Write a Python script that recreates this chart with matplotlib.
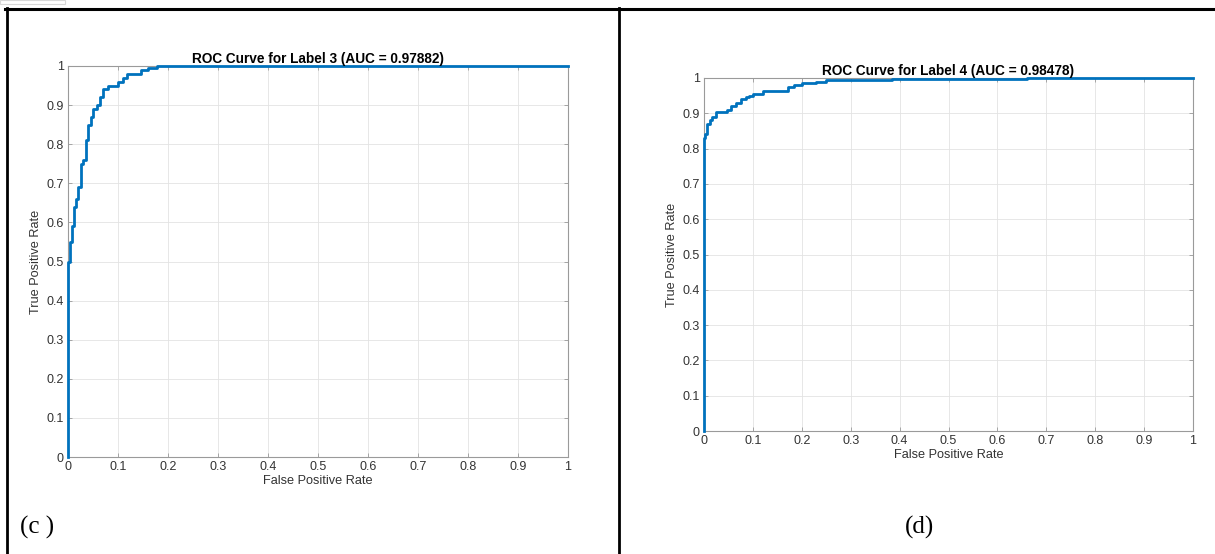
import matplotlib
matplotlib.use("Agg")
import matplotlib.pyplot as plt
from matplotlib.lines import Line2D
from matplotlib.patches import Rectangle

# ---- data ----
fpr_3 = [0.0, 0.0, 0.004, 0.004, 0.008, 0.008, 0.011, 0.011, 0.016, 0.016, 0.020, 0.020,
         0.025, 0.025, 0.030, 0.030, 0.036, 0.036, 0.040, 0.040, 0.045, 0.045, 0.050, 0.050,
         0.058, 0.058, 0.064, 0.064, 0.070, 0.070, 0.080, 0.080, 0.100, 0.100, 0.110,
         0.110, 0.118, 0.118, 0.145, 0.145, 0.160, 0.160, 0.178, 0.178, 1.0]
tpr_3 = [0.0, 0.50, 0.50, 0.55, 0.55, 0.59, 0.59, 0.64, 0.64, 0.66, 0.66, 0.69,
         0.69, 0.75, 0.75, 0.76, 0.76, 0.81, 0.81, 0.85, 0.85, 0.87, 0.87, 0.89,
         0.89, 0.90, 0.90, 0.92, 0.92, 0.94, 0.94, 0.95, 0.95, 0.96, 0.96,
         0.97, 0.97, 0.98, 0.98, 0.99, 0.99, 0.995, 0.995, 1.0, 1.0]

fpr_4 = [0.0, 0.0, 0.002, 0.002, 0.007, 0.007, 0.012, 0.012, 0.016, 0.016, 0.024, 0.024,
         0.041, 0.041, 0.048, 0.048, 0.055, 0.055, 0.065, 0.065, 0.075, 0.075, 0.085, 0.085,
         0.092, 0.092, 0.100, 0.100, 0.120, 0.120, 0.171, 0.171, 0.185, 0.185, 0.200, 0.200,
         0.230, 0.230, 0.250, 0.250, 0.300, 0.300, 0.384, 0.384, 0.660, 0.660, 1.0]
tpr_4 = [0.0, 0.83, 0.83, 0.84, 0.84, 0.87, 0.87, 0.88, 0.88, 0.89, 0.89, 0.903,
         0.903, 0.905, 0.905, 0.91, 0.91, 0.92, 0.92, 0.93, 0.93, 0.94, 0.94, 0.945,
         0.945, 0.95, 0.95, 0.955, 0.955, 0.963, 0.963, 0.975, 0.975, 0.98, 0.98, 0.985,
         0.985, 0.99, 0.99, 0.993, 0.993, 0.995, 0.995, 0.998, 0.998, 1.0, 1.0]

titles = ["ROC Curve for Label 3 (AUC = 0.97882)", "ROC Curve for Label 4 (AUC = 0.98478)"]
panel_labels = ["(c )", "(d)"]
ticks = [0, 0.1, 0.2, 0.3, 0.4, 0.5, 0.6, 0.7, 0.8, 0.9, 1]
tick_labels = ["0", "0.1", "0.2", "0.3", "0.4", "0.5", "0.6", "0.7", "0.8", "0.9", "1"]

W, H = 1215, 554
fig = plt.figure(figsize=(W / 100, H / 100), dpi=100)
fig.patch.set_facecolor("white")

def px_axes(x0, x1, ytop, ybot):
    return [x0 / W, (H - ybot) / H, (x1 - x0) / W, (ybot - ytop) / H]

sans = ["Liberation Sans", "DejaVu Sans"]
serif = ["Liberation Serif", "DejaVu Serif"]
blue = "#0072BD"
axcol = "#9a9a9a"
txtcol = "#333333"

def make(ax, fx, ty, title):
    ax.plot(fx, ty, color=blue, lw=2.0, solid_joinstyle="round", clip_on=False, zorder=3)
    ax.set_xlim(0, 1)
    ax.set_ylim(0, 1)
    ax.set_xticks(ticks)
    ax.set_yticks(ticks)
    ax.set_xticklabels(tick_labels, family=sans, fontsize=9, color=txtcol)
    ax.set_yticklabels(tick_labels, family=sans, fontsize=9, color=txtcol)
    ax.tick_params(direction="in", length=3, width=0.6, color=axcol, top=True, right=True, pad=3)
    ax.grid(True, color="#e3e3e3", lw=0.6)
    ax.set_axisbelow(True)
    for s in ax.spines.values():
        s.set_color(axcol)
        s.set_linewidth(0.8)
    ax.set_title(title, family=sans, fontsize=9.8, fontweight="bold", color="black", pad=2)
    ax.set_xlabel("False Positive Rate", family=sans, fontsize=9.2, color=txtcol, labelpad=1)
    ax.set_ylabel("True Positive Rate", family=sans, fontsize=9.2, color=txtcol, labelpad=3)

ax1 = fig.add_axes(px_axes(68, 568, 66, 457))
make(ax1, fpr_3, tpr_3, titles[0])
ax2 = fig.add_axes(px_axes(704, 1193, 78, 431))
make(ax2, fpr_4, tpr_4, titles[1])

# table borders
def fx(x):
    return x / W

def fy(y):
    return (H - y) / H

fig.add_artist(Line2D([fx(5), fx(1215)], [fy(9), fy(9)], color="black", lw=2.2, transform=fig.transFigure))
fig.add_artist(Line2D([fx(6.5), fx(6.5)], [fy(8), fy(554)], color="black", lw=2.0, transform=fig.transFigure))
fig.add_artist(Line2D([fx(619), fx(619)], [fy(8), fy(554)], color="black", lw=2.0, transform=fig.transFigure))
fig.add_artist(Rectangle((fx(0), fy(4)), fx(65), 4 / H, transform=fig.transFigure,
                         facecolor="white", edgecolor="#d8d8d8", lw=0.8))

fig.text(fx(20), fy(527), panel_labels[0], family=serif, fontsize=18, ha="left", va="center", color="black")
fig.text(fx(920), fy(527), panel_labels[1], family=serif, fontsize=18, ha="center", va="center", color="black")

fig.savefig("out.png", dpi=100, facecolor="white")
